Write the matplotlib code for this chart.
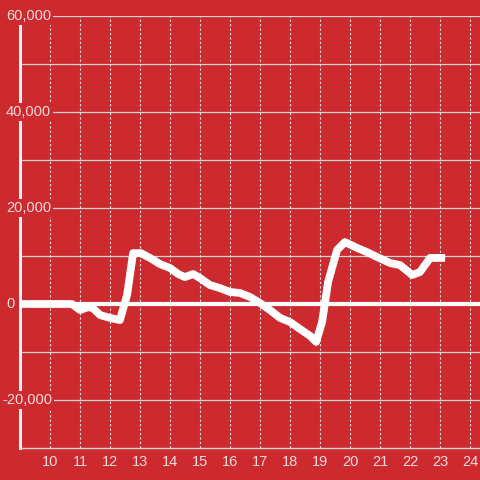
import matplotlib
matplotlib.use('Agg')
import matplotlib.pyplot as plt
import matplotlib.transforms as mtransforms

# time (hour of day) and value
hora = [9.0, 10.73, 11.0, 11.27, 11.43, 11.67, 12.0, 12.33, 12.57, 12.77,
        13.03, 13.33, 13.67, 14.0, 14.27, 14.5, 14.77, 15.0, 15.33, 15.67,
        16.0, 16.33, 16.67, 17.0, 17.33, 17.67, 18.0, 18.33, 18.67, 18.87,
        19.07, 19.27, 19.57, 19.83, 20.23, 20.57, 20.9, 21.33, 21.67, 22.07,
        22.33, 22.67, 23.17]
valor = [0, 0, -1250, -650, -850, -2300, -2900, -3350, 1900, 10600,
         10600, 9600, 8300, 7500, 6250, 5600, 6250, 5400, 3950, 3300,
         2500, 2300, 1450, 200, -1250, -2900, -3750, -5200, -6650, -7900,
         -3750, 4600, 11250, 12900, 11700, 10800, 9800, 8550, 8100, 6050,
         6650, 9600, 9600]

yticks = [60000, 40000, 20000, 0, -20000]
ylabels = ['60,000', '40,000', '20,000', '0', '-20,000']
xticks = list(range(10, 25))

rojo = '#cd2a2f'
texto = '#f4dcdd'

plt.rcParams['font.family'] = ['Liberation Sans', 'DejaVu Sans']

fig = plt.figure(figsize=(4.8, 4.8), dpi=100, facecolor=rojo)
ax = fig.add_axes([20/480, 32/480, 460/480, 432/480], facecolor=rojo)
ax.set_xlim(9, 9 + 460/30)
ax.set_ylim(-30000, 60000)

# horizontal grid every 10,000
for yv in range(-20000, 60001, 10000):
    if yv == 0:
        continue
    ax.axhline(yv, color='#d4d4d4', lw=0.9, zorder=1)
# vertical dotted grid
for xv in xticks:
    ax.axvline(xv, color='#e4e4e4', lw=0.8, ls=(0, (2, 2)), zorder=1)

ax.axhline(0, color='white', lw=3, zorder=2)
ax.plot(hora, valor, color='white', lw=5.6, solid_joinstyle='round',
        solid_capstyle='butt', zorder=3)

for s in ['top', 'right']:
    ax.spines[s].set_visible(False)
ax.spines['left'].set_color('#f2f2f2')
ax.spines['left'].set_linewidth(2.2)
ax.spines['bottom'].set_color('#d4d4d4')
ax.spines['bottom'].set_linewidth(1)

ax.set_yticks([])
ax.set_xticks(xticks)
ax.set_xticklabels([str(x) for x in xticks], color=texto, fontsize=10.5)
ax.tick_params(axis='x', length=0, pad=5)

trans = mtransforms.blended_transform_factory(fig.transFigure, ax.transData)
for yv, lab in zip(yticks, ylabels):
    ax.text(6/480 if lab != '-20,000' else 2/480, yv, lab, transform=trans,
            ha='left', va='center', color=texto, fontsize=10.5, zorder=6,
            clip_on=False,
            bbox=dict(boxstyle='square,pad=0.15', fc=rojo, ec='none'))

fig.savefig('out.png', dpi=100, facecolor=rojo)
